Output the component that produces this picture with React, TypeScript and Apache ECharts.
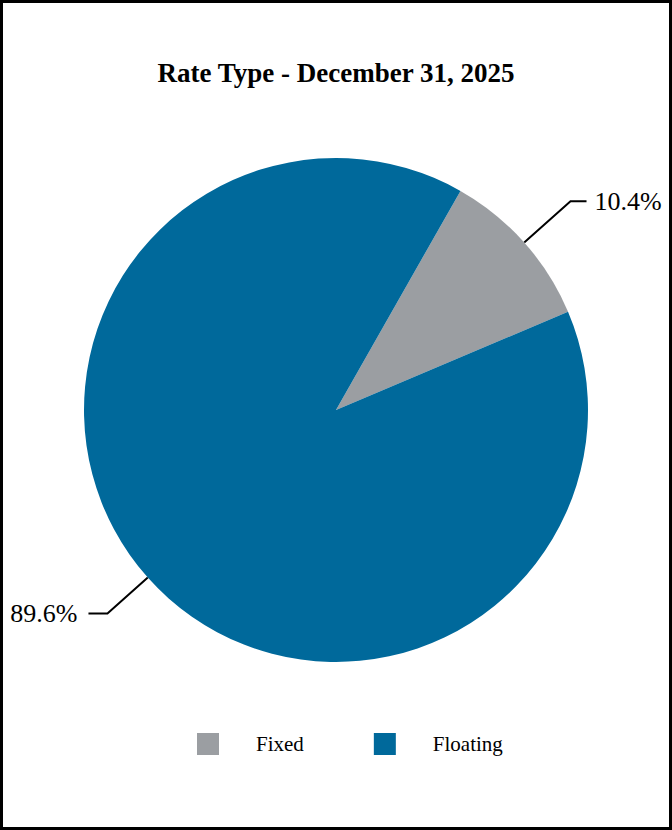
import React, { useEffect, useRef } from "react";
import * as echarts from "echarts";

const categories = ["Fixed", "Floating"];
const values = [10.4, 89.6];
const colors = ["#9B9EA2", "#00699B"];
const lineLengths = [62, 54];
const lineLengths2 = [16, 19];
const labelGaps = [8, 11];
const titleText = "Rate Type - December 31, 2025";

export default function App() {
  const ref = useRef<HTMLDivElement>(null);
  useEffect(() => {
    document.body.style.margin = "0";
    const chart = echarts.init(ref.current!, null, { renderer: "svg" });
    const font = "Liberation Serif";
    chart.setOption({
      animation: false,
      backgroundColor: "#ffffff",
      title: {
        text: titleText,
        left: "center",
        top: 54,
        textStyle: { fontFamily: font, fontWeight: "bold", fontSize: 27, color: "#000" },
      },
      legend: {
        bottom: 70,
        left: 192,
        itemWidth: 22,
        itemHeight: 22,
        itemGap: 70,
        icon: "rect",
        data: categories,
        textStyle: { fontFamily: font, fontSize: 21, color: "#000", padding: [0, 0, 0, 32] },
      },
      graphic: [
        {
          type: "rect",
          shape: { x: 1.5, y: 1.5, width: 669, height: 827 },
          style: { fill: "none", stroke: "#000", lineWidth: 3 },
          silent: true,
        },
      ],
      series: [
        {
          type: "pie",
          center: [336, 410],
          radius: [0, 252],
          startAngle: 60.4,
          clockwise: true,
          data: categories.map((c, i) => ({
            name: c,
            value: values[i],
            itemStyle: { color: colors[i] },
            labelLine: { length: lineLengths[i], length2: lineLengths2[i] },
            label: { distanceToLabelLine: labelGaps[i] },
          })),
          label: {
            show: true,
            formatter: (p: any) => p.value.toFixed(1) + "%",
            fontFamily: font,
            fontSize: 26,
            color: "#000",
            distanceToLabelLine: 8,
          },
          labelLine: { show: true, length: 58, length2: 16, lineStyle: { color: "#000", width: 2 } },
          emphasis: { disabled: true },
        },
      ],
    });
    return () => chart.dispose();
  }, []);
  return <div ref={ref} style={{ width: 672, height: 830 }} />;
}
